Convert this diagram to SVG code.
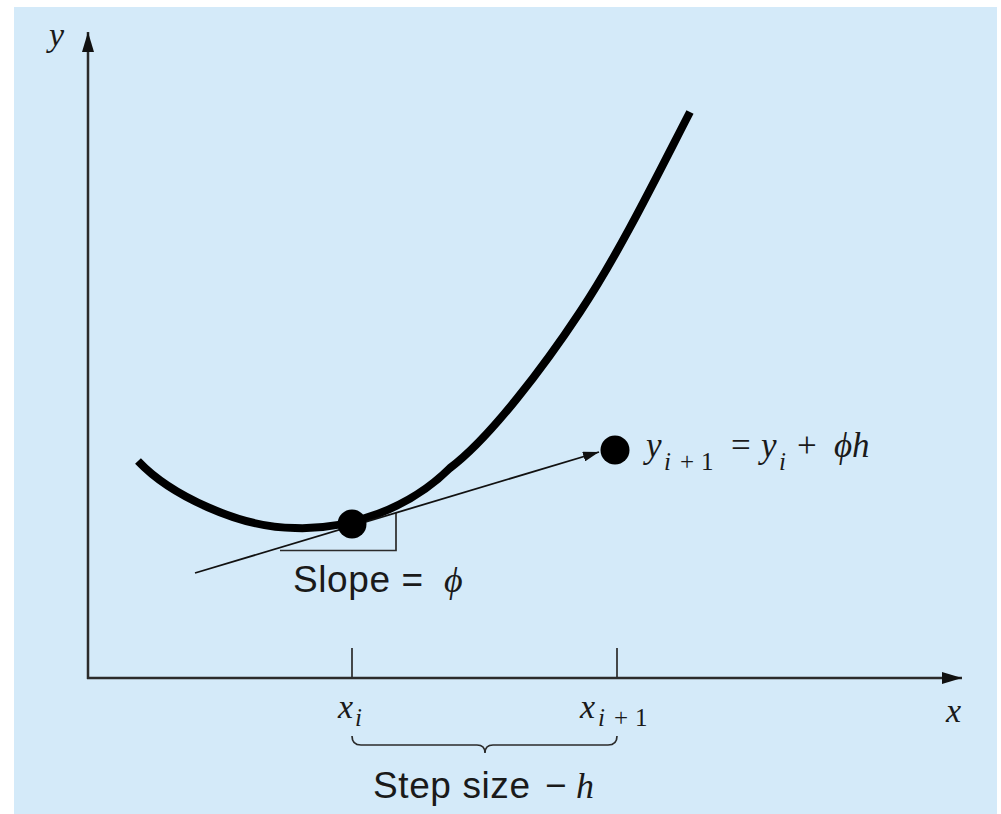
<svg xmlns="http://www.w3.org/2000/svg" width="1001" height="814" viewBox="0 0 1001 814">
<defs>
<style>
.ax{stroke:#2b2b2b;stroke-width:2.5;fill:none}
.thin{stroke:#2b2b2b;stroke-width:1.7;fill:none}
.math{font-family:"Liberation Serif",serif;font-style:italic;fill:#1a1a1a}
.rm{font-family:"Liberation Serif",serif;font-style:normal;fill:#1a1a1a}
.sans{font-family:"Liberation Sans",Arial,sans-serif;fill:#1a1a1a}
</style>
<marker id="ah" viewBox="0 0 20 12" refX="20" refY="6" markerWidth="20" markerHeight="12" markerUnits="userSpaceOnUse" orient="auto">
<path d="M0,0 L20,6 L0,12 Z" fill="#111"/>
</marker>
<marker id="sh" viewBox="0 0 16 10" refX="16" refY="5" markerWidth="16" markerHeight="10" markerUnits="userSpaceOnUse" orient="auto">
<path d="M0,0 L16,5 L0,10 Z" fill="#111"/>
</marker>
</defs>
<rect x="0" y="0" width="1001" height="814" fill="#ffffff"/>
<rect x="14" y="7" width="983" height="807" fill="#d4eaf9"/>
<g id="connectors">
<line id="y-axis" class="ax" x1="88" y1="679" x2="88" y2="32" marker-end="url(#ah)"/>
<line id="x-axis" class="ax" x1="87" y1="678" x2="962" y2="678" marker-end="url(#ah)"/>
<line id="tick-xi" class="thin" x1="352" y1="648" x2="352" y2="678"/>
<line id="tick-xi1" class="thin" x1="617" y1="648" x2="617" y2="678"/>
<path id="curve" d="M138,461 C170,495 240,528 295,528 C350,530 410,508 450,468 C490,438 545,365 580,312 C620,252 660,170 690,112" fill="none" stroke="#000" stroke-width="8" stroke-linecap="butt"/>
<path id="slope-triangle" class="thin" d="M280,550.5 L396,550.5 L396,513"/>
<line id="tangent" x1="195" y1="573" x2="599" y2="452" stroke="#111" stroke-width="1.8" marker-end="url(#sh)"/>
<path id="brace" class="thin" d="M352,736 Q352,745 361,745 L477,745 Q485,745 485,753 Q485,745 493,745 L608,745 Q617,745 617,736"/>
</g>
<g id="point-i"><circle cx="352" cy="524" r="14.5" fill="#000"/></g>
<g id="point-i1"><circle cx="615" cy="450" r="14.5" fill="#000"/></g>
<g id="labels">
<text class="math" x="49" y="46" font-size="34">y</text>
<text class="math" x="946" y="722" font-size="34">x</text>
<text class="sans" x="293" y="592" font-size="37" letter-spacing="0.6">Slope =</text>
<text class="math" x="444" y="592" font-size="36">ϕ</text>
<text class="math" x="646" y="457" font-size="35">y</text>
<text class="math" x="664" y="470" font-size="25">i</text>
<text class="rm" x="680" y="470" font-size="25">+</text>
<text class="rm" x="701" y="470" font-size="25">1</text>
<text class="rm" x="731" y="457" font-size="35">=</text>
<text class="math" x="761" y="457" font-size="35">y</text>
<text class="math" x="779" y="470" font-size="25">i</text>
<text class="rm" x="797" y="457" font-size="35">+</text>
<text class="math" x="834" y="457" font-size="35">ϕh</text>
<text class="math" x="338" y="718" font-size="34">x</text>
<text class="math" x="355" y="726" font-size="25">i</text>
<text class="math" x="580" y="718" font-size="34">x</text>
<text class="math" x="598" y="726" font-size="25">i</text>
<text class="rm" x="614" y="726" font-size="25">+</text>
<text class="rm" x="635" y="726" font-size="25">1</text>
<text class="sans" x="373" y="798" font-size="37" letter-spacing="0.6">Step size</text>
<text class="sans" x="545" y="798" font-size="37">−</text>
<text class="math" x="576" y="798" font-size="36">h</text>
</g>
</svg>
